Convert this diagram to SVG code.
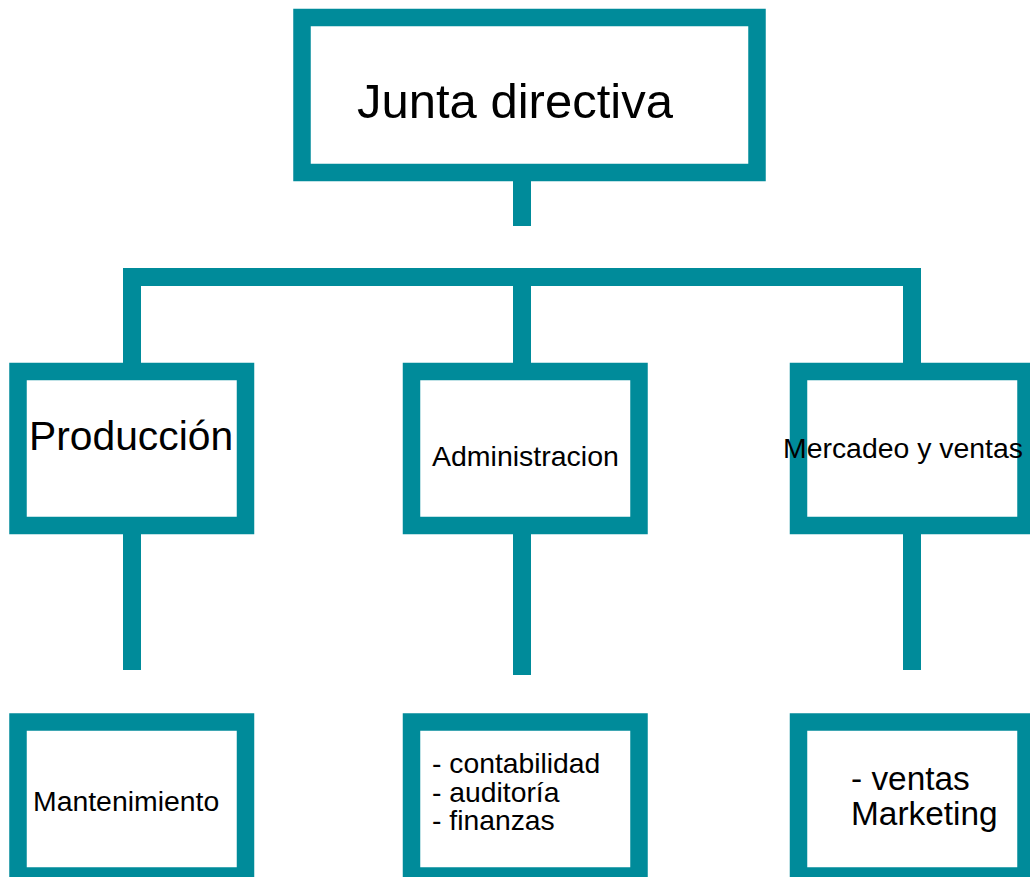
<svg xmlns="http://www.w3.org/2000/svg" width="1030" height="877" viewBox="0 0 1030 877">
<style>
.box{fill:#ffffff;stroke:#008B9A;stroke-width:17.5}
.conn line{stroke:#008B9A;stroke-width:18;stroke-linecap:butt;fill:none}
text{font-family:"Liberation Sans",Arial,sans-serif;fill:#000000}
</style>
<rect width="1030" height="877" fill="#ffffff"/>
<g id="connectors" class="conn">
<line x1="522" y1="181" x2="522" y2="226"/>
<line x1="123" y1="277" x2="921" y2="277"/>
<line x1="132" y1="277" x2="132" y2="363"/>
<line x1="522" y1="277" x2="522" y2="363"/>
<line x1="912" y1="277" x2="912" y2="363"/>
<line x1="132" y1="534" x2="132" y2="670"/>
<line x1="522" y1="534" x2="522" y2="675"/>
<line x1="912" y1="534" x2="912" y2="670"/>
</g>
<g id="junta">
<rect class="box" x="302" y="17.5" width="455" height="155"/>
<text x="357" y="118" font-size="49">Junta directiva</text>
</g>
<g id="produccion">
<rect class="box" x="18" y="371.5" width="227.5" height="154"/>
<text x="29" y="450" font-size="40.8">Producción</text>
</g>
<g id="administracion">
<rect class="box" x="411.5" y="371.5" width="227.5" height="154"/>
<text x="432" y="466" font-size="28.5">Administracion</text>
</g>
<g id="mercadeo">
<rect class="box" x="798.5" y="371.5" width="227.5" height="154"/>
<text x="783" y="458" font-size="28.4">Mercadeo y ventas</text>
</g>
<g id="mantenimiento">
<rect class="box" x="18" y="722" width="227.5" height="154"/>
<text x="33" y="811" font-size="28.4">Mantenimiento</text>
</g>
<g id="contabilidad">
<rect class="box" x="411.5" y="722" width="227.5" height="154"/>
<text font-size="28.3"><tspan x="432" y="773">- contabilidad</tspan><tspan x="432" y="801.5">- auditoría</tspan><tspan x="432" y="830">- finanzas</tspan></text>
</g>
<g id="ventas">
<rect class="box" x="798.5" y="722" width="227.5" height="154"/>
<text font-size="33.4"><tspan x="851" y="790">- ventas</tspan><tspan x="851" y="825">Marketing</tspan></text>
</g>
</svg>
